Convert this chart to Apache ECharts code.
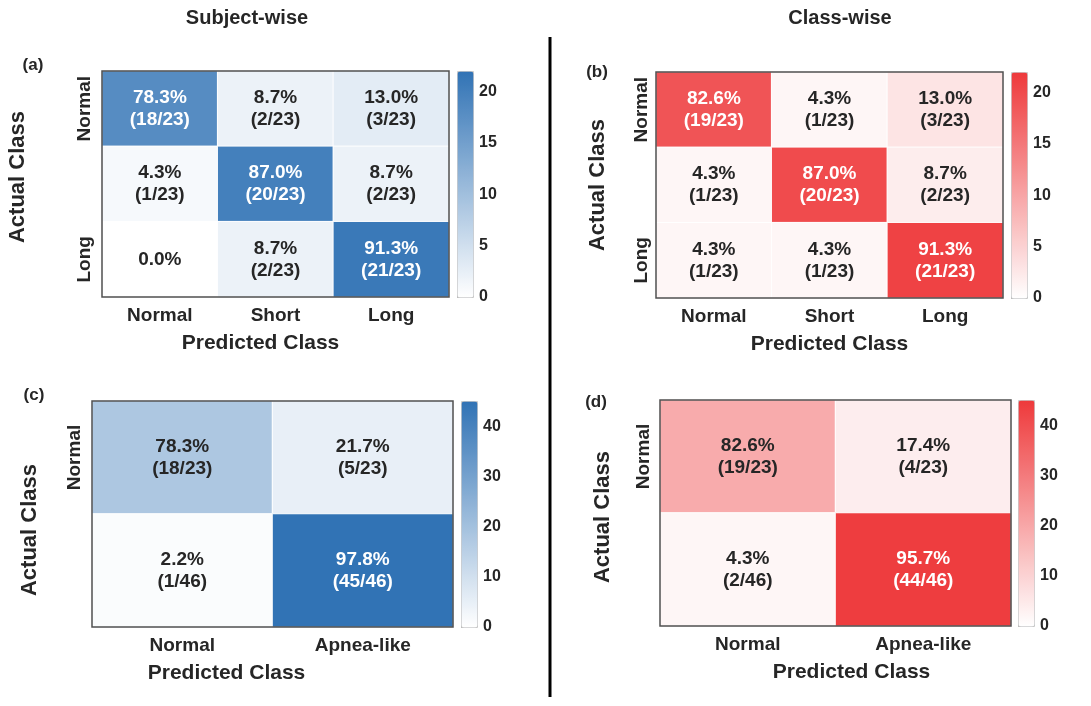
<!DOCTYPE html>
<html>
<head>
<meta charset="utf-8">
<script src="https://cdn.jsdelivr.net/npm/echarts@6/dist/echarts.min.js"></script>
<style>
html, body { margin: 0; padding: 0; background: #fff; }
#main { width: 1091px; height: 706px; }
</style>
</head>
<body>
<div id="main"></div>
<script>
// class names
const classes3 = ['Normal', 'Short', 'Long'];
const classes2 = ['Normal', 'Apnea-like'];

// confusion matrices, rows = actual class, cols = predicted class
const subject3 = [[18, 2, 3], [1, 20, 2], [0, 2, 21]];
const classw3 = [[19, 1, 3], [1, 20, 2], [1, 1, 21]];
const subject2 = [[18, 5], [1, 45]];
const classw2 = [[19, 4], [2, 44]];

// samples per actual class
const totals3 = [23, 23, 23];
const totals2 = [23, 46];

// colorbar ranges
const cbMax3 = 22, cbStep3 = 5;
const cbMax2 = 45, cbStep2 = 10;

const FONT = 'Liberation Sans, Arial, sans-serif';
const DARK = '#262626';
const BLUE = ['#ffffff', '#3173b5'];
const RED = ['#ffffff', '#ee393b'];

// xPad / yPad nudge the axis names off-centre like in the original figure
const panels = [
    { tag: '(a)', cats: classes3, counts: subject3, totals: totals3, max: cbMax3, step: cbStep3, colors: BLUE,
      grid: { left: 102, top: 71, width: 347, height: 226 }, cbLeft: 457, yGap: 73, yMargin: 8,
      xPad: [0, 30, 0, 0], yPad: [0, 0, 0, 14], tagPos: [33, 65] },
    { tag: '(b)', cats: classes3, counts: classw3, totals: totals3, max: cbMax3, step: cbStep3, colors: RED,
      grid: { left: 656, top: 72, width: 347, height: 226 }, cbLeft: 1011, yGap: 47, yMargin: 5,
      xPad: [0, 0, 0, 0], yPad: [0, 0, 0, 0], tagPos: [597, 72] },
    { tag: '(c)', cats: classes2, counts: subject2, totals: totals2, max: cbMax2, step: cbStep2, colors: BLUE,
      grid: { left: 92, top: 401, width: 361, height: 226 }, cbLeft: 461, yGap: 51, yMargin: 8,
      xPad: [0, 92, 0, 0], yPad: [0, 32, 0, 0], tagPos: [34, 395] },
    { tag: '(d)', cats: classes2, counts: classw2, totals: totals2, max: cbMax2, step: cbStep2, colors: RED,
      grid: { left: 660, top: 400, width: 351, height: 226 }, cbLeft: 1018, yGap: 46, yMargin: 7,
      xPad: [0, 0, 0, 32], yPad: [0, 8, 0, 0], tagPos: [596, 402] }
];

function buildCells(counts, totals, max) {
    let cells = [];
    counts.forEach(function (row, r) {
        row.forEach(function (n, c) {
            const pct = (n / totals[r] * 100).toFixed(1) + '%';
            const txt = n === 0 ? pct : pct + '\n(' + n + '/' + totals[r] + ')';
            cells.push({
                value: [c, r, n],
                txt: txt,
                label: { color: n / max > 0.6 ? '#ffffff' : DARK }
            });
        });
    });
    return cells;
}

let grids = [], xAxes = [], yAxes = [], series = [], visualMaps = [], graphics = [];

panels.forEach(function (p, i) {
    // heatmap grid
    grids.push(Object.assign({
        show: true, backgroundColor: 'transparent', borderColor: '#505050', borderWidth: 1.5, z: 5
    }, p.grid));
    xAxes.push({
        type: 'category', gridIndex: grids.length - 1, data: p.cats,
        axisLine: { show: false }, axisTick: { show: false }, splitLine: { show: false },
        axisLabel: { fontFamily: FONT, fontSize: 19, fontWeight: 'bold', color: DARK, margin: 9 },
        name: 'Predicted Class', nameLocation: 'middle', nameGap: 36,
        nameTextStyle: { fontFamily: FONT, fontSize: 21, fontWeight: 'bold', color: DARK, padding: p.xPad }
    });
    yAxes.push({
        type: 'category', gridIndex: grids.length - 1, data: p.cats, inverse: true,
        axisLine: { show: false }, axisTick: { show: false }, splitLine: { show: false },
        axisLabel: { fontFamily: FONT, fontSize: 19, fontWeight: 'bold', color: DARK, rotate: 90, margin: p.yMargin },
        name: 'Actual Class', nameLocation: 'middle', nameGap: p.yGap,
        nameTextStyle: { fontFamily: FONT, fontSize: 22, fontWeight: 'bold', color: DARK, padding: p.yPad }
    });
    series.push({
        type: 'heatmap', xAxisIndex: xAxes.length - 1, yAxisIndex: yAxes.length - 1,
        data: buildCells(p.counts, p.totals, p.max),
        itemStyle: { borderColor: '#ffffff', borderWidth: 1 },
        label: {
            show: true, fontFamily: FONT, fontSize: 19, fontWeight: 'bold', lineHeight: 22,
            formatter: function (d) { return d.data.txt; }
        },
        emphasis: { disabled: true }
    });
    visualMaps.push({
        type: 'continuous', seriesIndex: series.length - 1, dimension: 2,
        min: 0, max: p.max, calculable: false, text: null,
        left: p.cbLeft, top: p.grid.top, itemWidth: 16, itemHeight: p.grid.height,
        padding: 0, borderColor: '#c8c8c8', borderWidth: 1,
        inRange: { color: p.colors }
    });

    // colorbar tick axis
    grids.push({ left: p.cbLeft, top: p.grid.top, width: 16, height: p.grid.height });
    xAxes.push({ type: 'value', gridIndex: grids.length - 1, show: false, min: 0, max: 1 });
    yAxes.push({
        type: 'value', gridIndex: grids.length - 1, position: 'right',
        min: 0, max: p.max, interval: p.step,
        axisLine: { show: false }, splitLine: { show: false },
        axisTick: { show: true, length: 3, lineStyle: { color: '#999' } },
        axisLabel: { fontFamily: FONT, fontSize: 16, fontWeight: 'bold', color: DARK, margin: 6, showMaxLabel: false }
    });

    graphics.push({
        type: 'text', x: p.tagPos[0], y: p.tagPos[1],
        style: { text: p.tag, font: 'bold 17px ' + FONT, fill: DARK, align: 'center', verticalAlign: 'middle' }
    });
});

graphics.push(
    { type: 'text', x: 247, y: 18,
      style: { text: 'Subject-wise', font: 'bold 20px ' + FONT, fill: DARK, align: 'center', verticalAlign: 'middle' } },
    { type: 'text', x: 840, y: 18,
      style: { text: 'Class-wise', font: 'bold 20px ' + FONT, fill: DARK, align: 'center', verticalAlign: 'middle' } },
    { type: 'line', shape: { x1: 550, y1: 37, x2: 550, y2: 697 }, style: { stroke: '#000', lineWidth: 3 } }
);

const chart = echarts.init(document.getElementById('main'));
chart.setOption({
    animation: false,
    textStyle: { fontFamily: FONT },
    grid: grids,
    xAxis: xAxes,
    yAxis: yAxes,
    visualMap: visualMaps,
    series: series,
    graphic: graphics
});
</script>
</body>
</html>
